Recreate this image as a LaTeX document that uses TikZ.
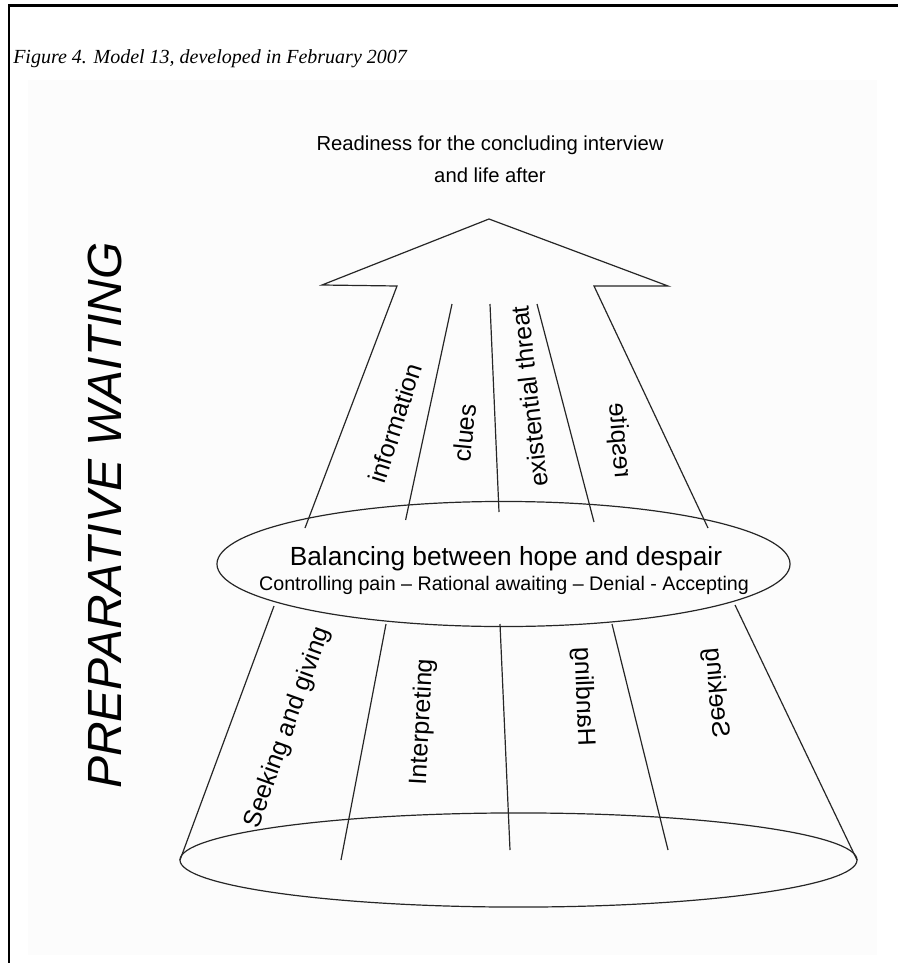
\documentclass[tikz,border=0pt]{standalone}
\usepackage{fontspec}
\setmainfont{Liberation Serif}
\setsansfont{Liberation Sans}
\usetikzlibrary{positioning}
\tikzset{
outline/.style={draw=black!85, line width=0.9pt},
frame/.style={line width=2pt},
lbl/.style={font=\sffamily\fontsize{18.75}{22}\selectfont, inner sep=0pt},
mirrored lbl/.style={lbl, rotate=#1, xscale=-1},
}
\tikzstyle{every node}=[font=\sffamily]

\begin{document}
\begin{tikzpicture}[
        x=0.75pt, y=-0.75pt,
        caption/.style={font=\rmfamily\itshape\fontsize{15}{18}\selectfont, inner sep=0pt},
        head/.style={font=\sffamily\fontsize{15.2}{18}\selectfont, inner sep=0pt},
    ]
    \useasboundingbox (0,0) rectangle (898,963);
    \fill[black!1] (28,80) rectangle (877,955);
    \draw[frame] (9,963) -- (9,5.5) -- (898,5.5);

    \node[caption, anchor=base west] (title) at (13,64) {Figure 4. Model 13, developed in February 2007};
    \node[head, anchor=base] (goal) at (490,151) {Readiness for the concluding interview};
    \node[head, anchor=base] (goal2) at (490,182) {and life after};

    % arrow
    \draw[outline] (305,528) -- (397,286) -- (322,285) -- (489,219) -- (668,286) -- (594,286) -- (708,528);
    \draw[outline] (452,304) -- (405.6,520);
    \draw[outline] (490,304) -- (499,512);
    \draw[outline] (537,304) -- (594,522);
    \node[lbl, rotate=72.4] (info) at (395,423) {information};
    \node[lbl, rotate=84.4] (clues) at (464.6,433) {clues};
    \node[lbl, rotate=96.4] (threat) at (529.5,396.5) {existential threat};
    \node[mirrored lbl=-85.5] (respite) at (619,441) {respite};

    % balancing
    \draw[outline] (503.5,564) ellipse [x radius=214.9pt, y radius=46.9pt];
    \node[anchor=base, inner sep=0pt, font=\sffamily\fontsize{19.7}{23}\selectfont] (balance) at (506,565) {Balancing between hope and despair};
    \node[anchor=base, inner sep=0pt, font=\sffamily\fontsize{14.75}{17}\selectfont] (modes) at (504,590) {Controlling pain -- Rational awaiting -- Denial - Accepting};

    % cone
    \draw[outline] (274,606) -- (180,860);
    \draw[outline] (735,605) -- (857,860);
    \draw[outline] (386,624) -- (341,860);
    \draw[outline] (500,624) -- (510,850);
    \draw[outline] (612,624) -- (668,850);
    \draw[outline] (518.5,860) ellipse [x radius=253.9pt, y radius=35.3pt];
    \node[lbl, rotate=70.3] (seekgive) at (288,728) {Seeking and giving};
    \node[lbl, rotate=87] (interp) at (422.6,722) {Interpreting};
    \node[mirrored lbl=-87.7] (handling) at (583,697) {Handling};
    \node[mirrored lbl=-85] (seeking) at (716,693) {Seeking};

    \node[rotate=90, inner sep=0pt, font=\sffamily\itshape\fontsize{36}{40}\selectfont] (waiting) at (105,515.5) {PREPARATIVE WAITING};
\end{tikzpicture}
\end{document}
